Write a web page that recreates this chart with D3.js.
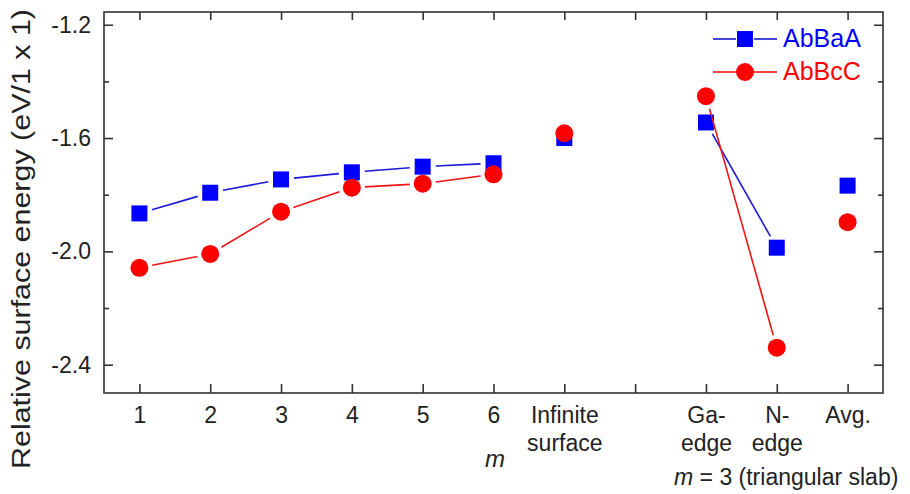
<!DOCTYPE html>
<html lang="en">
<head>
    <meta charset="UTF-8">
    <script src="https://d3js.org/d3.v7.min.js"></script>
    <title>Relative surface energy</title>
    <style>
        body { margin: 0; background: #fff; }
        text { font-family: "Liberation Sans", Arial, sans-serif; fill: #222; }
    </style>
</head>
<body>
    <figure style="margin:0"></figure>
    <script>
        // data
        const positions = [1, 2, 3, 4, 5, 6, 7, 8, 9, 10, 11];
        const tickLabels = [["1"], ["2"], ["3"], ["4"], ["5"], ["6"], ["Infinite", "surface"], [], ["Ga-", "edge"], ["N-", "edge"], ["Avg."]];
        const abbaa = [-1.866, -1.793, -1.746, -1.721, -1.701, -1.689, -1.600, null, -1.545, -1.987, -1.768];
        const abbcc = [-2.058, -2.009, -1.860, -1.775, -1.761, -1.728, -1.583, null, -1.452, -2.340, -1.897];
        // which points get joined by a line (start, end positions)
        const lineGroups = [[1, 6], [9, 10]];
        const yMajor = [-1.2, -1.6, -2.0, -2.4];
        const yMinor = [-1.4, -1.8, -2.2];

        const w = 910;
        const h = 494;
        const padL = 104, padR = 883, padT = 12, padB = 393;
        const blue = "#0000ff", red = "#ff0000";

        const xScale = d3.scaleLinear().domain([0.5, 11.5]).range([padL, padR]);
        const yScale = d3.scaleLinear().domain([-2.5, -1.155]).range([padB, padT]);

        const svg = d3.select("figure").append("svg")
            .attr("width", w)
            .attr("height", h);

        //frame
        svg.append("rect")
            .attr("x", padL).attr("y", padT)
            .attr("width", padR - padL).attr("height", padB - padT)
            .attr("fill", "none").attr("stroke", "#333").attr("stroke-width", 1.6);

        //bottom axis, ticks point inward, labels drawn by hand for the 2 line ones
        const xAxis = d3.axisBottom(xScale).tickValues(positions).tickSizeInner(-9).tickSizeOuter(0).tickFormat(() => "");
        const gx = svg.append("g").attr("transform", "translate(0," + padB + ")").call(xAxis);
        gx.select(".domain").remove();
        gx.selectAll(".tick line").attr("stroke", "#333").attr("stroke-width", 1.6);
        gx.selectAll(".tick").each(function(d, i) {
            const t = d3.select(this).append("text")
                .attr("text-anchor", "middle")
                .attr("font-size", 23)
                .attr("fill", "#222");
            tickLabels[i].forEach((s, k) => {
                t.append("tspan").attr("x", 0).attr("y", 30 + k * 28).text(s);
            });
        });

        //top axis
        const gt = svg.append("g").attr("transform", "translate(0," + padT + ")")
            .call(d3.axisTop(xScale).tickValues(positions).tickSizeInner(-8).tickSizeOuter(0).tickFormat(() => ""));
        gt.select(".domain").remove();
        gt.selectAll(".tick line").attr("stroke", "#333").attr("stroke-width", 1.6);

        //left axis
        const yAxis = d3.axisLeft(yScale).tickValues(yMajor).tickSizeInner(-9).tickSizeOuter(0).tickPadding(13)
            .tickFormat(d3.format(".1f"));
        const gy = svg.append("g").attr("transform", "translate(" + padL + ",0)").call(yAxis);
        gy.select(".domain").remove();
        gy.selectAll(".tick line").attr("stroke", "#333").attr("stroke-width", 1.6);
        gy.selectAll(".tick text").attr("font-size", 23).attr("fill", "#222")
            .attr("font-family", "Liberation Sans, Arial, sans-serif")
            .attr("x", -13)
            .text(d => d3.format(".1f")(d).replace("−", "-"));

        const gyMinor = svg.append("g").attr("transform", "translate(" + padL + ",0)")
            .call(d3.axisLeft(yScale).tickValues(yMinor).tickSizeInner(-5).tickSizeOuter(0).tickFormat(() => ""));
        gyMinor.select(".domain").remove();
        gyMinor.selectAll(".tick line").attr("stroke", "#333").attr("stroke-width", 1.6);

        //right axis
        [[yMajor, -9], [yMinor, -5]].forEach(([vals, len]) => {
            const g = svg.append("g").attr("transform", "translate(" + padR + ",0)")
                .call(d3.axisRight(yScale).tickValues(vals).tickSizeInner(len).tickSizeOuter(0).tickFormat(() => ""));
            g.select(".domain").remove();
            g.selectAll(".tick line").attr("stroke", "#333").attr("stroke-width", 1.6);
        });

        //axis titles
        svg.append("text")
            .attr("transform", "rotate(-90)")
            .attr("x", -239).attr("y", 30)
            .attr("text-anchor", "middle")
            .attr("font-size", 25)
            .attr("textLength", 460)
            .attr("lengthAdjust", "spacingAndGlyphs")
            .text("Relative surface energy (eV/1 x 1)");

        svg.append("text")
            .attr("x", 495).attr("y", 467)
            .attr("text-anchor", "middle")
            .attr("font-size", 24)
            .attr("font-style", "italic")
            .text("m");

        const slab = svg.append("text")
            .attr("x", 674).attr("y", 485)
            .attr("font-size", 23);
        slab.append("tspan").attr("font-style", "italic").text("m");
        slab.append("tspan").text(" = 3 (triangular slab)");

        //lines with a gap round each marker
        function drawLines(values, color) {
            const gap = 13;
            lineGroups.forEach(([a, b]) => {
                for (let p = a; p < b; p++) {
                    const x1 = xScale(p), y1 = yScale(values[p - 1]);
                    const x2 = xScale(p + 1), y2 = yScale(values[p]);
                    const len = Math.hypot(x2 - x1, y2 - y1);
                    const ux = (x2 - x1) / len, uy = (y2 - y1) / len;
                    svg.append("line")
                        .attr("x1", x1 + ux * gap).attr("y1", y1 + uy * gap)
                        .attr("x2", x2 - ux * gap).attr("y2", y2 - uy * gap)
                        .attr("stroke", color).attr("stroke-width", 1.6);
                }
            });
        }

        const pts = positions.map((p, i) => ({x: p, a: abbaa[i], c: abbcc[i]})).filter(d => d.a !== null);

        drawLines(abbaa, "#1a1ad6");
        svg.selectAll("rect.sq")
            .data(pts)
            .enter()
            .append("rect")
            .attr("class", "sq")
            .attr("x", d => xScale(d.x) - 8)
            .attr("y", d => yScale(d.a) - 8)
            .attr("width", 16).attr("height", 16)
            .attr("fill", blue);

        drawLines(abbcc, "#f01414");
        svg.selectAll("circle.dot")
            .data(pts)
            .enter()
            .append("circle")
            .attr("class", "dot")
            .attr("cx", d => xScale(d.x))
            .attr("cy", d => yScale(d.c))
            .attr("r", 9)
            .attr("fill", red);

        //legend
        const legend = svg.append("g");
        const legendRows = [{name: "AbBaA", color: blue, line: "#1a1ad6", y: 39, shape: "sq"},
                            {name: "AbBcC", color: red, line: "#f01414", y: 72, shape: "c"}];
        legendRows.forEach(r => {
            legend.append("line").attr("x1", 713).attr("x2", 736).attr("y1", r.y).attr("y2", r.y)
                .attr("stroke", r.line).attr("stroke-width", 1.6);
            legend.append("line").attr("x1", 754).attr("x2", 777).attr("y1", r.y).attr("y2", r.y)
                .attr("stroke", r.line).attr("stroke-width", 1.6);
            if (r.shape === "sq") {
                legend.append("rect").attr("x", 737).attr("y", r.y - 8).attr("width", 16).attr("height", 16).attr("fill", r.color);
            } else {
                legend.append("circle").attr("cx", 745).attr("cy", r.y).attr("r", 9).attr("fill", r.color);
            }
            legend.append("text").attr("x", 783).attr("y", r.y + 8)
                .attr("font-size", 25).style("fill", r.color).text(r.name);
        });
    </script>
</body>
</html>
